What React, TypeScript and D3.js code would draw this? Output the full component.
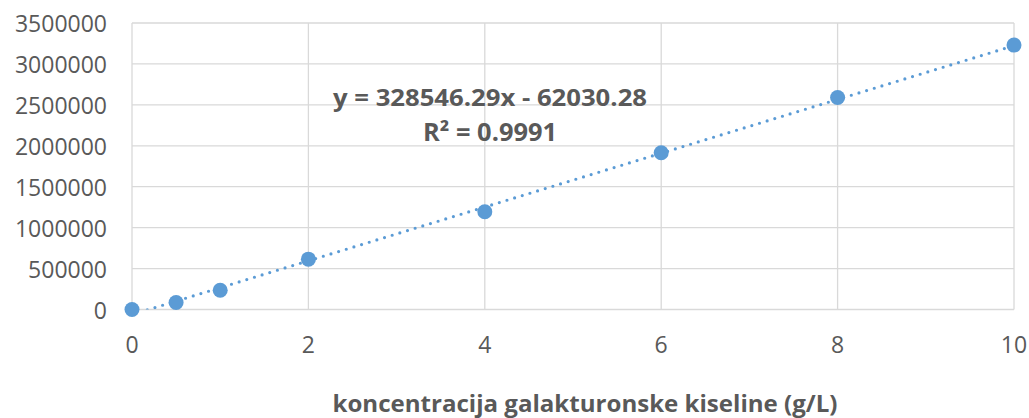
import React from "react";
import * as d3 from "d3";

const xValues = [0, 0.5, 1, 2, 4, 6, 8, 10];
const yValues = [0, 85000, 235000, 615000, 1195000, 1915000, 2590000, 3230000];
const xTicks = [0, 2, 4, 6, 8, 10];
const yTicks = [0, 500000, 1000000, 1500000, 2000000, 2500000, 3000000, 3500000];
const slope = 328546.29;
const intercept = -62030.28;
const equationText = "y = 328546.29x - 62030.28";
const r2Text = "R² = 0.9991";
const xTitle = "koncentracija galakturonske kiseline (g/L)";

const W = 1029;
const H = 418;
const M = { left: 132, right: 1014, top: 23, bottom: 309.5 };
const FONT = "'Open Sans', 'Liberation Sans', sans-serif";
const TEXT = "#595959";
const BLUE = "#5B9BD5";
const GRID = "#d9d9d9";

export default function App() {
  const x = d3.scaleLinear().domain([0, 10]).range([M.left, M.right]);
  const y = d3.scaleLinear().domain([0, 3500000]).range([M.bottom, M.top]);
  const trendX = d3.range(0, 10.0001, 0.05);
  const line = d3
    .line<number>()
    .x((d) => x(d))
    .y((d) => y(slope * d + intercept));
  return (
    <svg
      width={W}
      height={H}
      style={{ position: "absolute", left: 0, top: 0, background: "#fff" }}
      fontFamily={FONT}
    >
      <defs>
        <clipPath id="plotClip">
          <rect x={M.left} y={M.top - 10} width={M.right - M.left + 10} height={M.bottom - M.top + 10} />
        </clipPath>
      </defs>
      {yTicks.map((t) => (
        <line key={"gy" + t} x1={M.left} x2={M.right} y1={y(t)} y2={y(t)} stroke={GRID} strokeWidth={1.3} />
      ))}
      {xTicks.map((t) => (
        <line key={"gx" + t} x1={x(t)} x2={x(t)} y1={M.top} y2={M.bottom} stroke={GRID} strokeWidth={1.3} />
      ))}
      {yTicks.map((t) => (
        <text
          key={"ty" + t}
          x={107}
          y={y(t)}
          textAnchor="end"
          dominantBaseline="central"
          fontSize={23}
          fill={TEXT}
        >
          {t}
        </text>
      ))}
      {xTicks.map((t) => (
        <text key={"tx" + t} x={x(t)} y={344} textAnchor="middle" dominantBaseline="central" fontSize={23} fill={TEXT}>
          {t}
        </text>
      ))}
      <path
        d={line(trendX) || ""}
        clipPath="url(#plotClip)"
        fill="none"
        stroke={BLUE}
        strokeWidth={3.2}
        strokeLinecap="round"
        strokeDasharray="0 8"
      />
      {xValues.map((xv, i) => (
        <circle key={"p" + i} cx={x(xv)} cy={y(yValues[i])} r={7.5} fill={BLUE} />
      ))}
      <text x={490} y={96} textAnchor="middle" dominantBaseline="central" fontSize={24} fontWeight="bold" fill={TEXT} textLength={314} lengthAdjust="spacingAndGlyphs">
        {equationText}
      </text>
      <text x={490} y={131} textAnchor="middle" dominantBaseline="central" fontSize={25} fontWeight="bold" fill={TEXT} textLength={134} lengthAdjust="spacingAndGlyphs">
        {r2Text}
      </text>
      <text x={585} y={403} textAnchor="middle" dominantBaseline="central" fontSize={23} fontWeight="bold" fill={TEXT} textLength={505} lengthAdjust="spacingAndGlyphs">
        {xTitle}
      </text>
    </svg>
  );
}
